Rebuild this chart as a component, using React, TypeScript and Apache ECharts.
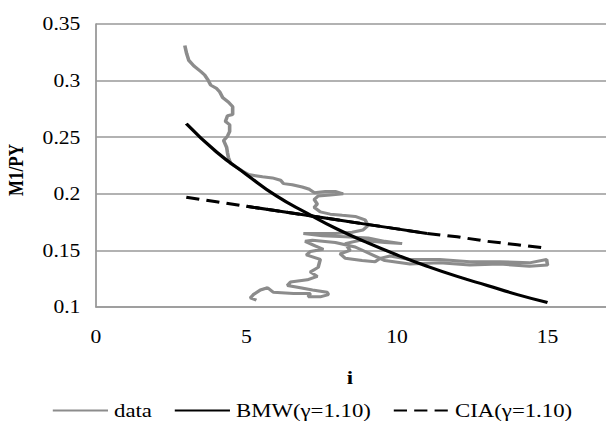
import React, { useEffect, useRef } from "react";
import * as echarts from "echarts";

const xTicks = [0, 5, 10, 15, 20];
const yTicks = [0.1, 0.15, 0.2, 0.25, 0.3, 0.35];

const curveRate = [3, 4, 5, 6, 7, 8, 9, 10, 11, 12, 13, 14, 15];
const bmwRatio = [0.262, 0.237, 0.217, 0.198, 0.183, 0.169, 0.157, 0.146, 0.136, 0.127, 0.119, 0.111, 0.104];
const ciaRatio = [0.197, 0.193, 0.189, 0.185, 0.181, 0.177, 0.173, 0.169, 0.165, 0.162, 0.158, 0.155, 0.152];

const dataRate = [
  2.95, 3.01, 3.08, 3.25, 3.48, 3.61, 3.71, 3.81, 4.01, 4.11, 4.21, 4.4, 4.54, 4.54, 4.37, 4.3, 4.44, 4.44, 4.37, 4.24,
  4.34, 4.37, 4.4, 4.47, 4.64, 4.87, 5.07, 5.3, 5.53, 5.86, 6.13, 6.23, 6.52, 6.85, 7.09, 7.25, 7.62, 7.95, 8.21, 7.78,
  7.38, 7.25, 7.35, 7.25, 7.45, 7.78, 8.18, 8.61, 8.94, 9.04, 8.87, 8.51, 7.95, 7.38, 6.89, 7.52, 8.28, 9.04, 9.6, 10.17,
  9.6, 8.77, 8.28, 8.44, 8.11, 8.28, 8.84, 9.27, 9.44, 9.77, 10.43, 11.42, 12.42, 13.41, 14.4, 14.97, 15.0, 14.4, 13.41, 12.42,
  11.42, 10.43, 9.6, 8.94, 8.61, 7.95, 7.19, 6.95, 7.28, 7.55, 7.12, 6.99, 7.45, 7.38, 7.12, 7.35, 7.02, 6.46, 6.36, 6.79,
  7.19, 7.68, 7.72, 7.45, 7.05, 7.12, 6.56, 5.89, 5.7, 5.46, 5.23, 5.13, 5.33,
];
const dataRatio = [
  0.331, 0.324, 0.318, 0.313, 0.308, 0.305, 0.301, 0.296, 0.293, 0.29, 0.285, 0.281, 0.277, 0.27, 0.269, 0.264, 0.261, 0.255, 0.251, 0.247,
  0.241, 0.236, 0.232, 0.227, 0.224, 0.22, 0.217, 0.216, 0.215, 0.214, 0.212, 0.209, 0.208, 0.206, 0.204, 0.201, 0.202, 0.202, 0.2, 0.199,
  0.198, 0.195, 0.191, 0.188, 0.184, 0.182, 0.181, 0.18, 0.177, 0.172, 0.168, 0.166, 0.165, 0.165, 0.165, 0.163, 0.162, 0.161, 0.158, 0.156,
  0.157, 0.159, 0.156, 0.15, 0.147, 0.143, 0.141, 0.14, 0.143, 0.145, 0.142, 0.142, 0.14, 0.14, 0.139, 0.142, 0.137, 0.136, 0.138, 0.137,
  0.139, 0.138, 0.141, 0.149, 0.153, 0.157, 0.159, 0.158, 0.154, 0.151, 0.149, 0.146, 0.142, 0.135, 0.131, 0.127, 0.124, 0.122, 0.119, 0.117,
  0.115, 0.113, 0.111, 0.109, 0.109, 0.112, 0.112, 0.113, 0.117, 0.115, 0.111, 0.108, 0.106,
];

const seriesNames = ["data", "BMW(\u03b3=1.10)", "CIA(\u03b3=1.10)"];

const SX = 1.2;
const W = 606 / SX;
const H = 428;
const FONT = "'Liberation Serif', 'Times New Roman', 'DejaVu Serif', serif";

export default function App() {
  const ref = useRef<HTMLDivElement>(null);
  useEffect(() => {
    if (!ref.current) return;
    const chart = echarts.init(ref.current, undefined, { renderer: "svg" });
    const pairs = (xs: number[], ys: number[]) => xs.map((x, k) => [x, ys[k]]);
    const ciaPairs = pairs(curveRate, ciaRatio);
    chart.setOption({
      animation: false,
      backgroundColor: "#ffffff",
      textStyle: { fontFamily: FONT },
      grid: {
        left: 96 / SX,
        top: 24,
        width: (20 * 30.1) / SX,
        height: 283,
        outerBoundsMode: "none",
        containLabel: false,
      },
      xAxis: {
        type: "value",
        min: xTicks[0],
        max: xTicks[xTicks.length - 1],
        interval: xTicks[1] - xTicks[0],
        axisLine: { show: true, lineStyle: { color: "#999999", width: 1.5 } },
        axisTick: { show: false },
        splitLine: { show: false },
        axisLabel: { color: "#000", fontSize: 18, fontFamily: FONT, margin: 21, showMaxLabel: false },
      },
      yAxis: {
        type: "value",
        min: yTicks[0],
        max: yTicks[yTicks.length - 1],
        interval: 0.05,
        axisLine: { show: true, lineStyle: { color: "#999999", width: 1.5 } },
        axisTick: { show: false },
        splitLine: { show: true, lineStyle: { color: "#999999", width: 1.5 } },
        axisLabel: {
          color: "#000",
          fontSize: 18,
          fontFamily: FONT,
          margin: 13,
          formatter: (v: number) => String(Number(v.toFixed(2))),
        },
      },
      legend: {
        data: [
          { name: seriesNames[0], textStyle: { width: 38, overflow: "none" } },
          { name: seriesNames[1], textStyle: { width: 118, overflow: "none" } },
          { name: seriesNames[2] },
        ],
        left: 38,
        top: 396,
        itemWidth: 46,
        itemHeight: 12,
        itemGap: 18,
        itemStyle: { opacity: 0 },
        textStyle: { color: "#000", fontSize: 19, fontFamily: FONT },
      },
      graphic: [
        {
          type: "text",
          x: 350 / SX,
          y: 378,
          style: { text: "i", font: `bold 19px ${FONT}`, fill: "#000", align: "center", verticalAlign: "middle" },
        },
        {
          type: "text",
          x: 16 / SX,
          y: 170,
          rotation: Math.PI / 2,
          style: { text: "M1/PY", font: `bold 17px ${FONT}`, fill: "#000", align: "center", verticalAlign: "middle" },
        },
      ],
      series: [
        {
          name: seriesNames[0],
          type: "line",
          data: pairs(dataRate, dataRatio),
          symbol: "none",
          showSymbol: false,
          lineStyle: { color: "#8c8c8c", width: 3 },
          itemStyle: { color: "#8c8c8c" },
          z: 2,
        },
        {
          name: seriesNames[1],
          type: "line",
          data: pairs(curveRate, bmwRatio),
          symbol: "none",
          showSymbol: false,
          smooth: true,
          lineStyle: { color: "#000", width: 3 },
          itemStyle: { color: "#000" },
          z: 3,
        },
        {
          name: seriesNames[2],
          type: "line",
          data: ciaPairs,
          symbol: "none",
          showSymbol: false,
          lineStyle: { color: "#000", width: 3, type: [11, 6] },
          itemStyle: { color: "#000" },
          z: 3,
        },
        {
          name: "cia-solid",
          type: "line",
          data: ciaPairs.filter((p) => p[0] >= 5 && p[0] <= 11),
          symbol: "none",
          showSymbol: false,
          lineStyle: { color: "#000", width: 3 },
          itemStyle: { color: "#000" },
          z: 3,
        },
      ],
    });
    return () => chart.dispose();
  }, []);
  return (
    <div
      ref={ref}
      style={{
        position: "absolute",
        left: 0,
        top: 0,
        width: W,
        height: H,
        transform: `scaleX(${SX})`,
        transformOrigin: "0 0",
        background: "#fff",
      }}
    />
  );
}
